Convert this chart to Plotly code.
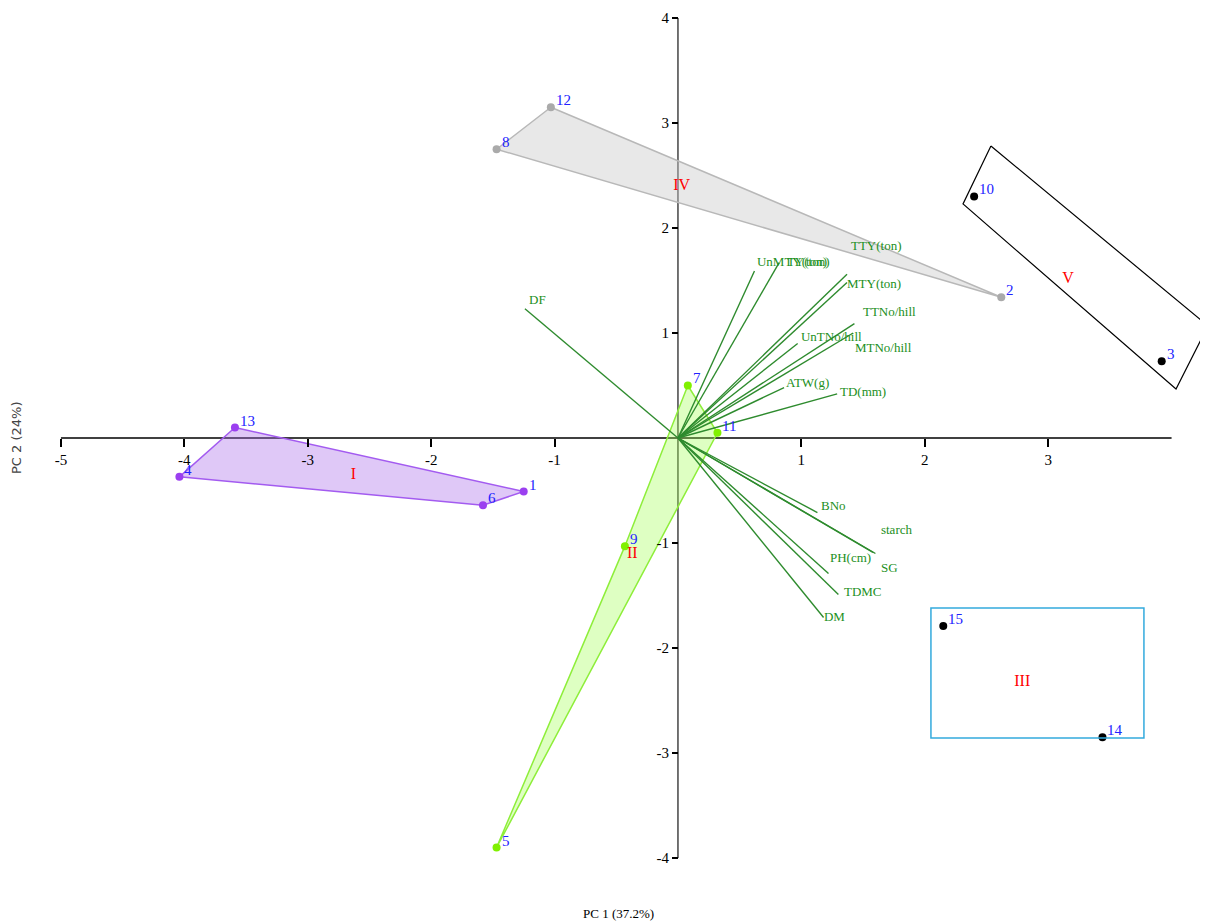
import plotly.graph_objects as go

# ---------------- data ----------------
# Group I (purple)
g1_ids = ["13", "1", "6", "4"]
g1_x = [-3.59, -1.25, -1.58, -4.04]
g1_y = [0.10, -0.51, -0.64, -0.37]
# Group II (green)
g2_ids = ["7", "11", "5", "9"]
g2_x = [0.08, 0.32, -1.47, -0.43]
g2_y = [0.50, 0.05, -3.90, -1.03]
# Group IV (grey)
g4_ids = ["12", "2", "8"]
g4_x = [-1.03, 2.62, -1.47]
g4_y = [3.15, 1.34, 2.75]
# Group V (black, rotated box)
g5_ids = ["10", "3"]
g5_x = [2.40, 3.92]
g5_y = [2.30, 0.73]
g5_box_x = [2.536, 4.295, 4.036, 2.310]
g5_box_y = [2.781, 1.067, 0.467, 2.229]
# Group III (black, blue box)
g3_ids = ["15", "14"]
g3_x = [2.15, 3.44]
g3_y = [-1.79, -2.85]
g3_box_x = [2.05, 3.776]
g3_box_y = [-1.619, -2.857]

group_names = ["I", "II", "III", "IV", "V"]
group_lab_x = [-2.63, -0.37, 2.79, 0.03, 3.16]
group_lab_y = [-0.35, -1.10, -2.32, 2.40, 1.51]

# loading vectors
var_names = ["DF", "UnMTY(ton)", "TY(ton)", "TTY(ton)", "MTY(ton)", "TTNo/hill",
             "UnTNo/hill", "MTNo/hill", "ATW(g)", "TD(mm)", "BNo", "starch",
             "SG", "PH(cm)", "TDMC", "DM"]
var_x = [-1.24, 0.62, 0.82, 1.37, 1.37, 1.43, 0.97, 1.42, 0.86, 1.29, 1.13,
         1.60, 1.58, 1.22, 1.30, 1.18]
var_y = [1.23, 1.59, 1.67, 1.56, 1.48, 1.09, 0.90, 1.00, 0.48, 0.42, -0.71,
         -1.10, -1.09, -1.29, -1.49, -1.71]
var_lab_x = [-1.207, 0.640, 0.883, 1.402, 1.370, 1.499, 0.997, 1.434, 0.875,
             1.313, 1.159, 1.645, 1.645, 1.232, 1.345, 1.183]
var_lab_y = [1.305, 1.667, 1.667, 1.819, 1.457, 1.190, 0.952, 0.848, 0.514,
             0.429, -0.657, -0.886, -1.248, -1.152, -1.476, -1.714]

x_ticks = [-5, -4, -3, -2, -1, 1, 2, 3]
y_ticks = [-4, -3, -2, -1, 1, 2, 3, 4]
x_title = "PC 1 (37.2%)"
y_title = "PC 2 (24%)"

# ---------------- figure ----------------
XR = [-5.429, 4.360]
YR = [-4.676, 4.095]
SERIF = "Liberation Serif"

fig = go.Figure()

# axis lines (span of the tick range)
fig.add_trace(go.Scatter(x=[-5, 4], y=[0, 0], mode="lines",
                         line=dict(color="black", width=1.5), hoverinfo="skip"))
fig.add_trace(go.Scatter(x=[0, 0], y=[-4, 4], mode="lines",
                         line=dict(color="#444444", width=1.5), hoverinfo="skip"))


def hull(xs, ys, line_col, fill_col):
    fig.add_trace(go.Scatter(x=xs + xs[:1], y=ys + ys[:1], mode="lines",
                             fill="toself", fillcolor=fill_col,
                             line=dict(color=line_col, width=1.5),
                             hoverinfo="skip"))


hull(g1_x, g1_y, "#a35bf0", "rgba(170,110,235,0.38)")
hull(g4_x, g4_y, "#b8b8b8", "rgba(200,200,200,0.42)")
hull(g2_x, g2_y, "#8eee3a", "rgba(160,255,80,0.35)")

# vectors
for vx, vy in zip(var_x, var_y):
    fig.add_trace(go.Scatter(x=[0, vx], y=[0, vy], mode="lines",
                             line=dict(color="#2e8b2e", width=1.4),
                             hoverinfo="skip"))
fig.add_trace(go.Scatter(x=var_lab_x, y=var_lab_y, mode="text", text=var_names,
                         textposition="middle right", cliponaxis=False,
                         textfont=dict(family=SERIF, size=13, color="#228f22"),
                         hoverinfo="skip"))

# boxes
fig.add_trace(go.Scatter(x=g5_box_x + g5_box_x[:1], y=g5_box_y + g5_box_y[:1],
                         mode="lines", line=dict(color="black", width=1.2),
                         hoverinfo="skip"))
fig.add_shape(type="rect", x0=g3_box_x[0], x1=g3_box_x[1],
              y0=g3_box_y[0], y1=g3_box_y[1],
              line=dict(color="#33aadd", width=1.5))

annotations = []


def pts(xs, ys, ids, col):
    fig.add_trace(go.Scatter(x=xs, y=ys, mode="markers",
                             marker=dict(color=col, size=8),
                             hoverinfo="skip"))
    for px, py, t in zip(xs, ys, ids):
        annotations.append(dict(x=px, y=py, text=t, showarrow=False,
                                xanchor="left", yanchor="middle",
                                xshift=3, yshift=7,
                                font=dict(family=SERIF, size=15, color="#2222ff")))


pts(g1_x, g1_y, g1_ids, "#9b3ff0")
pts(g4_x, g4_y, g4_ids, "#aaaaaa")
pts(g2_x, g2_y, g2_ids, "#80f000")
pts(g5_x, g5_y, g5_ids, "black")
pts(g3_x, g3_y, g3_ids, "black")

fig.add_trace(go.Scatter(x=group_lab_x, y=group_lab_y, mode="text",
                         text=group_names, textposition="middle center",
                         textfont=dict(family=SERIF, size=16, color="red"),
                         hoverinfo="skip"))

annotations += [
    dict(text=x_title, xref="paper", yref="paper", x=610 / 1208,
         y=1 - 905 / 921, showarrow=False, xanchor="center", yanchor="middle",
         font=dict(family=SERIF, size=13, color="black")),
    dict(text=y_title, xref="paper", yref="paper", x=8 / 1208,
         y=1 - 430 / 921, showarrow=False, textangle=-90,
         xanchor="center", yanchor="middle",
         font=dict(family="DejaVu Sans", size=13, color="#444444")),
]

fig.update_layout(
    width=1208, height=921,
    margin=dict(l=0, r=0, t=0, b=0),
    paper_bgcolor="white", plot_bgcolor="white",
    showlegend=False,
    xaxis=dict(range=XR, anchor="free",
               position=(0 - YR[0]) / (YR[1] - YR[0]),
               showgrid=False, zeroline=False, showline=False,
               ticks="outside", ticklen=8, tickwidth=1.5, tickcolor="black",
               tickvals=x_ticks, ticktext=[str(v) for v in x_ticks],
               tickfont=dict(family=SERIF, size=15, color="black"),
               automargin=False),
    yaxis=dict(range=YR, anchor="free",
               position=(0 - XR[0]) / (XR[1] - XR[0]),
               showgrid=False, zeroline=False, showline=False,
               ticks="outside", ticklen=6, tickwidth=1.5, tickcolor="black",
               tickvals=y_ticks, ticktext=[str(v) for v in y_ticks],
               tickfont=dict(family=SERIF, size=15, color="black"),
               automargin=False),
    annotations=annotations,
)

fig.write_html("out.html")
